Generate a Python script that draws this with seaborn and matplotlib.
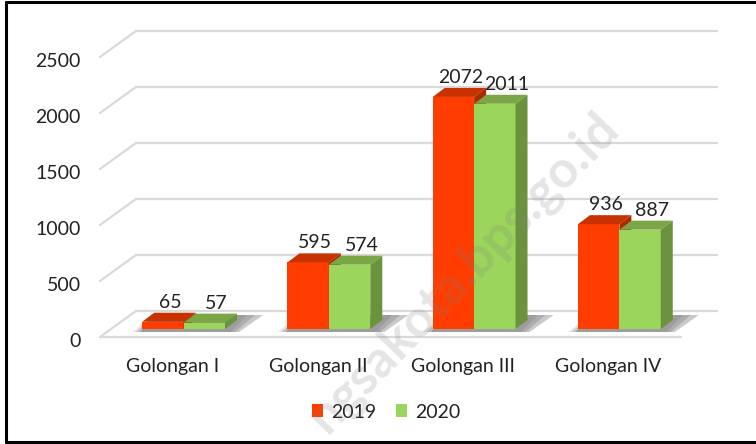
import numpy as np
import pandas as pd
import matplotlib
matplotlib.use('Agg')
import matplotlib.pyplot as plt
import matplotlib.colors as mcolors
import seaborn as sns
from matplotlib.patches import Polygon, Patch
from matplotlib.transforms import IdentityTransform
from matplotlib.lines import Line2D

categories = ['Golongan I', 'Golongan II', 'Golongan III', 'Golongan IV']
years = ['2019', '2020']
values_2019 = [65, 595, 2072, 936]
values_2020 = [57, 574, 2011, 887]
yticks = [0, 500, 1000, 1500, 2000, 2500]

front_colors = {'2019': '#FF3D00', '2020': '#9BD55B'}
top_colors = {'2019': '#C83200', '2020': '#7BA646'}
side_colors = {'2019': '#A82A00', '2020': '#6B923C'}
label_dx = {'2019': 7, '2020': 12}
text_color = '#222222'

sns.set_theme(style='white')
plt.rcParams['font.family'] = ['Lato', 'DejaVu Sans']

W, H = 756, 444
fig = plt.figure(figsize=(W / 100, H / 100), dpi=100)
fig.patch.set_facecolor('white')
ax = fig.add_axes([111 / W, 115 / H, 581 / W, 291.2 / H])

df = pd.DataFrame({
    'Golongan': categories * 2,
    'Tahun': [years[0]] * len(categories) + [years[1]] * len(categories),
    'Jumlah': values_2019 + values_2020,
})
sns.barplot(data=df, x='Golongan', y='Jumlah', hue='Tahun', palette=front_colors,
            hue_order=years, order=categories, width=0.57, saturation=1,
            errorbar=None, linewidth=0, legend=False, ax=ax)
ax.set_xlim(-0.5, 3.5)
ax.set_ylim(0, 2600)
ax.axis('off')

ID = IdentityTransform()
DX, DY = 12, 9      # bar depth (pixels)
FX, FY = -11, -8    # floor front edge relative to bar front plane
WX, WY = 36, 26     # back wall relative to floor front edge


def P(x, y):
    return ax.transData.transform((x, y))


# gridlines on the back wall + floor
for v in yticks:
    fl = P(-0.5, v) + np.array([FX, FY])
    bl = fl + np.array([WX, WY])
    br = P(3.5, v) + np.array([FX + WX, FY + WY])
    ax.add_line(Line2D([fl[0], bl[0], br[0]], [fl[1], bl[1], br[1]], transform=ID,
                       color='#d9d9d9', lw=1.6, zorder=0, clip_on=False))
    if v == 0:
        fr = P(3.5, v) + np.array([FX, FY])
        ax.add_line(Line2D([fl[0], fr[0]], [fl[1], fr[1]], transform=ID,
                           color='#d9d9d9', lw=1.6, zorder=0, clip_on=False))
    ax.text(fl[0] - 19, fl[1] - 10, f'{v}', transform=ID, ha='right', va='baseline',
            fontsize=14, color=text_color)

# identify bars
hex_to_year = {mcolors.to_hex(c).lower(): y for y, c in front_colors.items()}
bars = {y: [] for y in years}
for p in ax.patches:
    y = hex_to_year.get(mcolors.to_hex(p.get_facecolor()).lower())
    if y is not None:
        bars[y].append(p)

# shadows for each category group
for i in range(len(categories)):
    r = bars['2019'][i]
    g = bars['2020'][i]
    xl, b = P(r.get_x(), 0)
    xr, _ = P(g.get_x() + g.get_width(), 0)
    for k, a in enumerate([0.12, 0.18, 0.26]):
        s = 10 - 4 * k
        poly = Polygon([(xl - s, b - 3), (xr + DX + 4 - s, b - 3),
                        (xr + DX + 30 - 2 * s, b + DY + 5), (xl + DX, b + DY + 5)],
                       closed=True, transform=ID, facecolor='#303030', alpha=a,
                       edgecolor='none', zorder=1, clip_on=False)
        ax.add_patch(poly)

# 3D faces and value labels
for zi, y in enumerate(years):
    for p in bars[y]:
        p.set_zorder(3 + zi)
        x0, yb = P(p.get_x(), 0)
        x1, yt = P(p.get_x() + p.get_width(), p.get_height())
        top = Polygon([(x0, yt), (x1, yt), (x1 + DX, yt + DY), (x0 + DX, yt + DY)],
                      closed=True, transform=ID, facecolor=top_colors[y],
                      edgecolor='none', zorder=3 + zi, clip_on=False)
        side = Polygon([(x1, yb), (x1 + DX, yb + DY), (x1 + DX, yt + DY), (x1, yt)],
                       closed=True, transform=ID, facecolor=side_colors[y],
                       edgecolor='none', zorder=3 + zi, clip_on=False)
        ax.add_patch(top)
        ax.add_patch(side)
        ax.text((x0 + x1) / 2 + label_dx[y], yt + DY + 5, f'{int(round(p.get_height()))}',
                transform=ID, ha='center', va='baseline', fontsize=14,
                color=text_color, zorder=10)

# category labels
for i, c in enumerate(categories):
    x, yv = P(i, 0)
    ax.text(x + FX, yv + FY - 35, c, transform=ID, ha='center', va='baseline',
            fontsize=14, color=text_color)

# legend
handles = [Patch(facecolor=front_colors[y], edgecolor='none', label=y) for y in years]
leg = fig.legend(handles=handles, loc='center', bbox_to_anchor=(386 / W, 32 / H),
                 ncol=2, frameon=False, fontsize=14, handlelength=0.6,
                 handleheight=0.6, handletextpad=0.4, columnspacing=1.0)
for t in leg.get_texts():
    t.set_color(text_color)

# watermark (visible part)
fig.text(464 / W, (H - 272) / H, 'ngsakota.bps.go.id', rotation=46,
         rotation_mode='anchor', ha='center', va='center', fontsize=37,
         fontweight='bold', color='#7f7f7f', alpha=0.2, family='Lato',
         zorder=20)

# border
for xs, ys in [([6, 6], [2.5, 442]), ([6, W], [2.5, 2.5]), ([6, W], [442, 442])]:
    fig.add_artist(Line2D([x / W for x in xs], [1 - yy / H for yy in ys],
                          transform=fig.transFigure, color='black', lw=2.2))

fig.savefig('out.png', dpi=100)
